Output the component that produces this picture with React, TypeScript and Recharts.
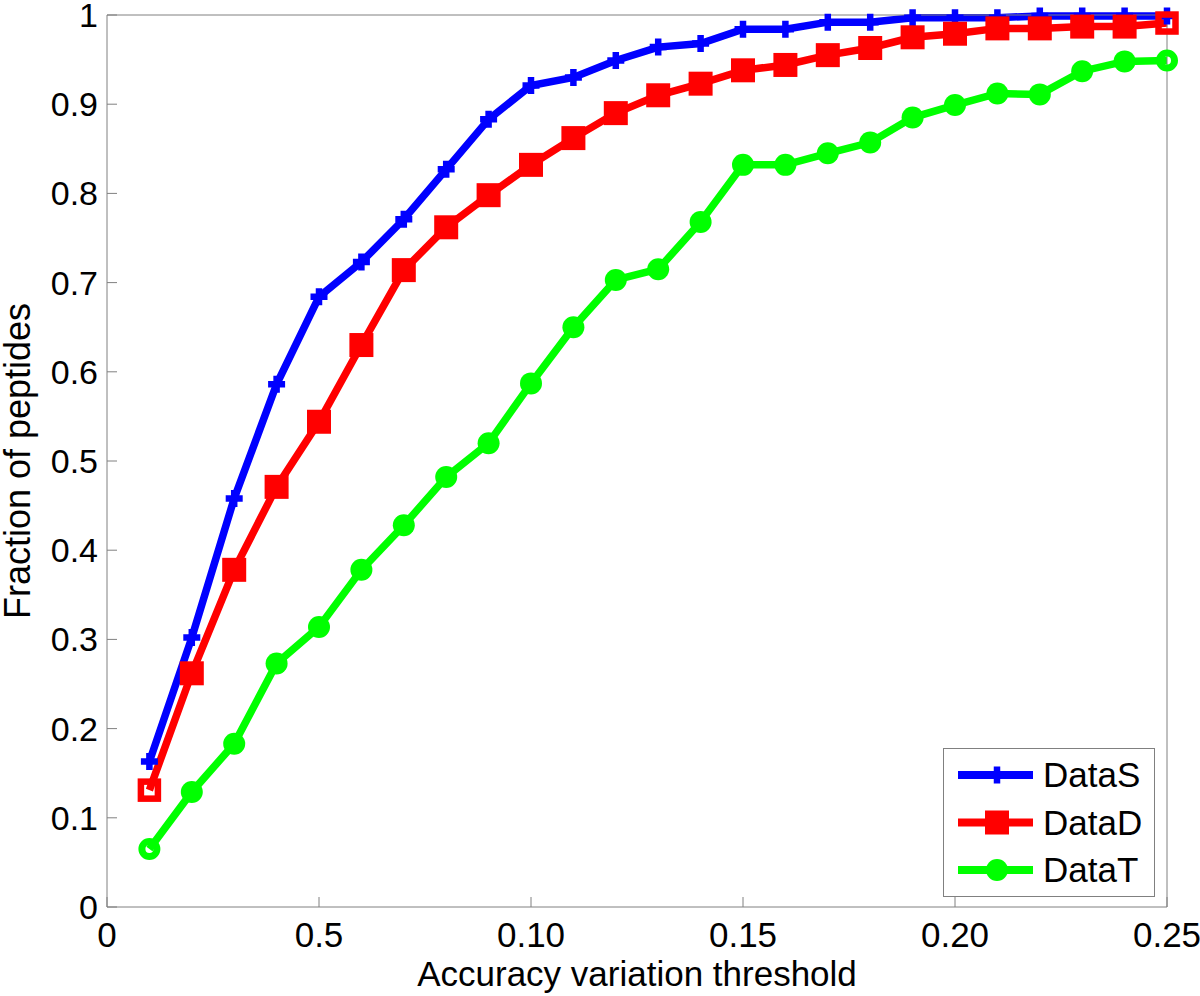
import React from 'react';
import { LineChart, Line, XAxis, YAxis, Legend } from 'recharts';

// ---- data ----
const xValues = [1, 2, 3, 4, 5, 6, 7, 8, 9, 10, 11, 12, 13, 14, 15, 16, 17, 18, 19, 20, 21, 22, 23, 24, 25];
const xTicks = [0, 5, 10, 15, 20, 25];
const xTickLabels = ['0', '0.5', '0.10', '0.15', '0.20', '0.25'];
const yTicks = [0, 0.1, 0.2, 0.3, 0.4, 0.5, 0.6, 0.7, 0.8, 0.9, 1];
const yTickLabels = ['0', '0.1', '0.2', '0.3', '0.4', '0.5', '0.6', '0.7', '0.8', '0.9', '1'];

const dataS = [0.163, 0.302, 0.458, 0.586, 0.684, 0.723, 0.771, 0.827, 0.883, 0.921, 0.930, 0.949, 0.964, 0.968, 0.984, 0.984, 0.992, 0.992, 0.997, 0.997, 0.997, 0.999, 0.999, 0.999, 0.999];
const dataD = [0.131, 0.262, 0.378, 0.471, 0.544, 0.630, 0.714, 0.762, 0.798, 0.832, 0.862, 0.890, 0.910, 0.923, 0.938, 0.944, 0.955, 0.963, 0.975, 0.979, 0.985, 0.985, 0.987, 0.987, 0.991];
const dataT = [0.065, 0.129, 0.183, 0.273, 0.314, 0.378, 0.428, 0.482, 0.520, 0.587, 0.650, 0.703, 0.715, 0.768, 0.832, 0.832, 0.845, 0.857, 0.885, 0.899, 0.912, 0.911, 0.937, 0.948, 0.949];

const seriesNames = ['DataS', 'DataD', 'DataT'];
const seriesColors = ['#0000ff', '#ff0000', '#00ff00'];
const seriesMarkers = ['plus', 'square', 'circle'];

const xTitle = 'Accuracy variation threshold';
const yTitle = 'Fraction of peptides';

const data = xValues.map((x, i) => ({ x, DataS: dataS[i], DataD: dataD[i], DataT: dataT[i] }));

// ---- styles ----
const FONT = '"Liberation Sans", Arial, Helvetica, sans-serif';
const AXIS = '#808080';

function Marker({ type, cx, cy, color, hollow }: any) {
  if (type === 'plus') {
    return (
      <path
        d={`M${cx - 8.5},${cy}H${cx + 8.5}M${cx},${cy - 8.5}V${cy + 8.5}`}
        stroke={color}
        strokeWidth={6.5}
        fill="none"
      />
    );
  }
  if (type === 'square') {
    if (hollow) {
      return <rect x={cx - 8.5} y={cy - 8.5} width={17} height={17} fill="none" stroke={color} strokeWidth={6.5} />;
    }
    return <rect x={cx - 12} y={cy - 12} width={24} height={24} fill={color} stroke="none" />;
  }
  if (hollow) {
    return <circle cx={cx} cy={cy} r={7.5} fill="none" stroke={color} strokeWidth={7} />;
  }
  return <circle cx={cx} cy={cy} r={11} fill={color} stroke="none" />;
}

const makeDot = (type: string, color: string) => (props: any) => {
  const { cx, cy, index } = props;
  if (cx == null || cy == null) return <g key={`d-${index}`} />;
  const hollow = type !== 'plus' && (index === 0 || index === xValues.length - 1);
  return (
    <g key={`d-${type}-${index}`}>
      <Marker type={type} cx={cx} cy={cy} color={color} hollow={hollow} />
    </g>
  );
};

const LegendBox = (props: any) => {
  const payload = props.payload || [];
  const items = seriesNames.map((name, i) => {
    const p = payload.find((q: any) => q.dataKey === name || q.value === name);
    return { name: p ? p.value : name, color: p ? p.color : seriesColors[i], marker: seriesMarkers[i] };
  });
  return (
    <svg width={212} height={149} style={{ display: 'block' }}>
      <rect x={0.5} y={0.5} width={211} height={148} fill="#ffffff" stroke={AXIS} strokeWidth={1} />
      {items.map((it, i) => {
        const y = 27 + i * 47.5;
        return (
          <g key={it.name}>
            <line x1={15} x2={90} y1={y} y2={y} stroke={it.color} strokeWidth={8} />
            <Marker type={it.marker} cx={54} cy={y} color={it.color} hollow={false} />
            <text x={100} y={y} dy="0.355em" fontSize={35} fontFamily={FONT} fill="#000">
              {it.name}
            </text>
          </g>
        );
      })}
    </svg>
  );
};

const XTitle = (props: any) => {
  const vb = props.viewBox || { x: 107, width: 1060, y: 907, height: 89 };
  return (
    <text x={vb.x + vb.width / 2} y={986} textAnchor="middle" fontSize={35} fontFamily={FONT} fill="#000">
      {xTitle}
    </text>
  );
};

const YTitle = (props: any) => {
  const vb = props.viewBox || { x: 0, y: 15, width: 107, height: 892 };
  const cy = vb.y + vb.height / 2;
  const bx = 30;
  return (
    <text
      x={bx}
      y={cy}
      transform={`rotate(-90, ${bx}, ${cy})`}
      textAnchor="middle"
      fontSize={36}
      fontFamily={FONT}
      fill="#000"
    >
      {yTitle}
    </text>
  );
};

export default function App() {
  return (
    <div style={{ position: 'absolute', left: 0, top: 0, width: 1200, height: 996, background: '#ffffff' }}>
      <LineChart width={1200} height={996} data={data} margin={{ top: 14, right: 32, bottom: 0, left: 0 }}>
        <XAxis
          dataKey="x"
          type="number"
          domain={[0, 25]}
          ticks={xTicks}
          interval={0}
          tickFormatter={(v: number) => xTickLabels[xTicks.indexOf(v)]}
          height={89}
          stroke={AXIS}
          tickSize={-10}
          tickMargin={25}
          tick={{ fill: '#000', fontSize: 35, fontFamily: FONT }}
          label={XTitle}
        />
        <XAxis
          xAxisId="top"
          orientation="top"
          type="number"
          domain={[0, 25]}
          ticks={xTicks}
          interval={0}
          height={1}
          stroke={AXIS}
          tickSize={-10}
          tick={false}
        />
        <YAxis
          type="number"
          domain={[0, 1]}
          ticks={yTicks}
          interval={0}
          tickFormatter={(v: number) => yTickLabels[yTicks.indexOf(v)]}
          width={107}
          stroke={AXIS}
          tickSize={-10}
          tickMargin={19}
          tick={{ fill: '#000', fontSize: 34, fontFamily: FONT }}
          label={YTitle}
        />
        <YAxis
          yAxisId="right"
          orientation="right"
          type="number"
          domain={[0, 1]}
          ticks={yTicks}
          interval={0}
          width={1}
          stroke={AXIS}
          tickSize={-10}
          tick={false}
        />
        <Legend
          layout="horizontal"
          verticalAlign="middle"
          align="center"
          content={LegendBox}
          wrapperStyle={{ position: 'absolute', left: 943, top: 748, width: 212, height: 149 }}
        />
        {seriesNames.map((name, i) => (
          <Line
            key={name}
            type="linear"
            dataKey={name}
            name={name}
            stroke={seriesColors[i]}
            strokeWidth={7.5}
            dot={makeDot(seriesMarkers[i], seriesColors[i])}
            activeDot={false}
            isAnimationActive={false}
          />
        ))}
      </LineChart>
    </div>
  );
}
